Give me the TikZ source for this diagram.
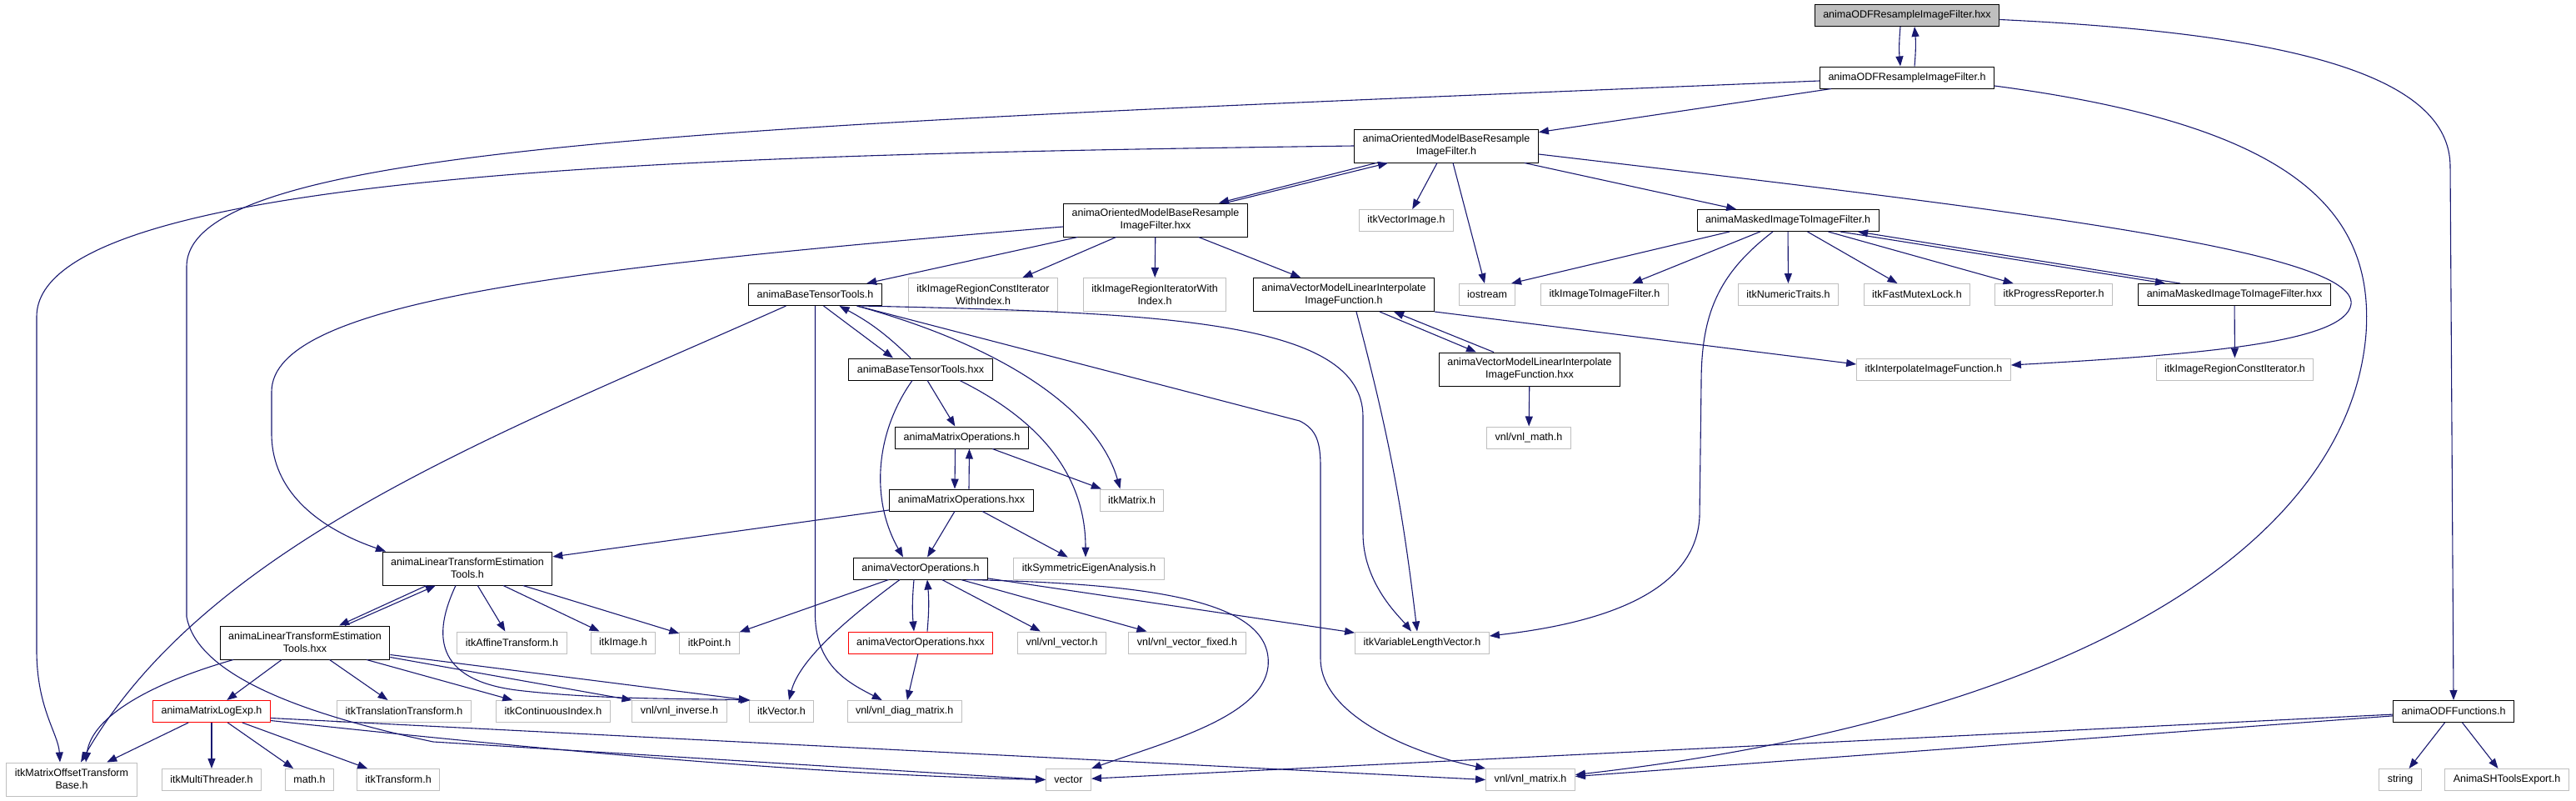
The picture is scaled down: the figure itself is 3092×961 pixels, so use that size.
\documentclass[tikz,border=0pt]{standalone}
\usepackage{fontspec}
\setmainfont{Liberation Sans}
\usetikzlibrary{arrows.meta}
\definecolor{edgeblue}{RGB}{25,25,112}
\definecolor{extgray}{RGB}{191,191,191}
\definecolor{truncred}{RGB}{255,0,0}

\begin{document}
\begin{tikzpicture}[x=1pt, y=-1pt,
	hfile/.style={draw=black, fill=white, line width=1pt, font=\fontsize{12.5}{15}\selectfont, align=center, minimum height=26pt, inner xsep=10pt, inner ysep=2pt},
	ext/.style={hfile, draw=extgray},
	trunc/.style={hfile, draw=truncred},
	mainfile/.style={hfile, fill=extgray},
	twoline/.style={minimum height=40pt},
	inc/.style={-{Triangle[length=12pt,width=9pt]}, edgeblue, line width=1.1pt}]
	\useasboundingbox (0,0) rectangle (3092,961);
	\node[mainfile] (odfhxx) at (2289,18.5) {animaODFResampleImageFilter.hxx};
	\node[hfile] (odfh) at (2289,93) {animaODFResampleImageFilter.h};
	\node[hfile, twoline] (ombh) at (1736,175) {animaOrientedModelBaseResample\\ImageFilter.h};
	\node[hfile, twoline] (ombhxx) at (1387,264) {animaOrientedModelBaseResample\\ImageFilter.hxx};
	\node[ext] (vecimg) at (1688,264.5) {itkVectorImage.h};
	\node[hfile] (maskh) at (2146,264.5) {animaMaskedImageToImageFilter.h};
	\node[hfile] (btth) at (978.5,353.5) {animaBaseTensorTools.h};
	\node[ext, twoline] (regcitw) at (1180,353.5) {itkImageRegionConstIterator\\WithIndex.h};
	\node[ext, twoline] (regitw) at (1386,353.5) {itkImageRegionIteratorWith\\Index.h};
	\node[hfile, twoline] (vmlih) at (1613,353.5) {animaVectorModelLinearInterpolate\\ImageFunction.h};
	\node[ext] (iostream) at (1785,353.5) {iostream};
	\node[ext] (imgtoimg) at (1926,353.5) {itkImageToImageFilter.h};
	\node[ext] (numtraits) at (2146.5,353.5) {itkNumericTraits.h};
	\node[ext] (mutex) at (2301,353.5) {itkFastMutexLock.h};
	\node[ext] (progress) at (2465,353.5) {itkProgressReporter.h};
	\node[hfile] (maskhxx) at (2682,353.5) {animaMaskedImageToImageFilter.hxx};
	\node[hfile] (btthxx) at (1105,443) {animaBaseTensorTools.hxx};
	\node[hfile, twoline] (vmlihxx) at (1836,443) {animaVectorModelLinearInterpolate\\ImageFunction.hxx};
	\node[ext] (interp) at (2321,443) {itkInterpolateImageFunction.h};
	\node[ext] (regci) at (2682.5,443) {itkImageRegionConstIterator.h};
	\node[hfile] (matoph) at (1154.5,525) {animaMatrixOperations.h};
	\node[ext] (vnlmath) at (1835,525) {vnl/vnl\_math.h};
	\node[hfile] (matophxx) at (1154,600) {animaMatrixOperations.hxx};
	\node[ext] (itkmatrix) at (1358.5,600) {itkMatrix.h};
	\node[hfile, twoline] (lteh) at (561,682) {animaLinearTransformEstimation\\Tools.h};
	\node[hfile] (vecoph) at (1105,682) {animaVectorOperations.h};
	\node[ext] (symeig) at (1307,682) {itkSymmetricEigenAnalysis.h};
	\node[hfile, twoline] (ltehxx) at (366,771) {animaLinearTransformEstimation\\Tools.hxx};
	\node[ext] (affine) at (614.5,771) {itkAffineTransform.h};
	\node[ext] (itkimage) at (748,771) {itkImage.h};
	\node[ext] (itkpoint) at (851.5,771) {itkPoint.h};
	\node[trunc] (vecophxx) at (1105,771) {animaVectorOperations.hxx};
	\node[ext] (vnlvector) at (1274.6,771) {vnl/vnl\_vector.h};
	\node[ext] (vnlvecfixed) at (1425,771) {vnl/vnl\_vector\_fixed.h};
	\node[ext] (varlen) at (1707,771) {itkVariableLengthVector.h};
	\node[trunc] (logexp) at (254,853.5) {animaMatrixLogExp.h};
	\node[ext] (translation) at (485,853.5) {itkTranslationTransform.h};
	\node[ext] (contidx) at (664,853.5) {itkContinuousIndex.h};
	\node[ext] (vnlinverse) at (815.5,853.5) {vnl/vnl\_inverse.h};
	\node[ext] (itkvector) at (938,853.5) {itkVector.h};
	\node[ext] (vnldiag) at (1085.7,853.5) {vnl/vnl\_diag\_matrix.h};
	\node[hfile] (odffunc) at (2945,853.5) {animaODFFunctions.h};
	\node[ext, twoline] (mobase) at (86,935) {itkMatrixOffsetTransform\\Base.h};
	\node[ext] (multithreader) at (254,935.5) {itkMultiThreader.h};
	\node[ext] (mathh) at (371.5,935.5) {math.h};
	\node[ext] (transform) at (478,935.5) {itkTransform.h};
	\node[ext] (vector) at (1282.5,935.5) {vector};
	\node[ext] (vnlmatrix) at (1837,935.5) {vnl/vnl\_matrix.h};
	\node[ext] (string) at (2881,935.5) {string};
	\node[ext] (shexport) at (3009,935.5) {AnimaSHToolsExport.h};
	\draw[inc] ([xshift=-8pt]odfhxx.south) to[bend right=5] ([xshift=-8pt]odfh.north);
	\draw[inc] ([xshift=9pt]odfh.north) to[bend right=5] ([xshift=9pt]odfhxx.south);
	\draw[inc] ([yshift=-5pt]odfhxx.east) .. controls (2750,40) and (2941,90) .. (2941,200) -- (odffunc.north);
	\draw[inc] (odfh) -- (ombh);
	\draw[inc] ([yshift=-4pt]odfh.west) .. controls (900,150) and (224,170) .. (224,320) -- (224,740) .. controls (235,800) and (330,850) .. (520,890) -- (vector.west);
	\draw[inc] ([yshift=-10pt]odfh.east) .. controls (2750,150) and (2850,250) .. (2840,400) .. controls (2820,650) and (2500,860) .. ([yshift=6pt]vnlmatrix.east);
	\draw[inc] (odffunc) -- (vector);
	\draw[inc] (odffunc) -- (vnlmatrix);
	\draw[inc] (odffunc) -- (string);
	\draw[inc] (odffunc) -- (shexport);
	\draw[inc] ([xshift=-84pt]ombh.south) -- ([xshift=76pt]ombhxx.north);
	\draw[inc] ([xshift=84pt]ombhxx.north) -- ([xshift=-70pt]ombh.south);
	\draw[inc] (ombh) -- (vecimg);
	\draw[inc] ([xshift=8pt]ombh.south) -- ([xshift=-3pt]iostream.north);
	\draw[inc] (ombh) -- (maskh);
	\draw[inc] ([yshift=-10pt]ombh.east) .. controls (2400,250) and (2830,300) .. (2822,365) .. controls (2815,410) and (2650,425) .. ([yshift=5pt]interp.east);
	\draw[inc] (ombh.west) .. controls (900,185) and (44,200) .. (44,380) -- (44,780) .. controls (44,850) and (70,880) .. ([xshift=-14pt]mobase.north);
	\draw[inc] ([yshift=-8pt]ombhxx.west) .. controls (700,320) and (326,360) .. (326,470) -- (326,520) .. controls (326,600) and (400,640) .. ([xshift=-98pt]lteh.north);
	\draw[inc] (ombhxx) -- (btth);
	\draw[inc] (ombhxx) -- (regcitw);
	\draw[inc] (ombhxx) -- (regitw);
	\draw[inc] (ombhxx) -- (vmlih);
	\draw[inc] ([xshift=10pt]btth.south) -- ([xshift=-33pt]btthxx.north);
	\draw[inc] ([xshift=-12pt]btthxx.north) to[bend right=8] ([xshift=29pt]btth.south);
	\draw[inc] ([xshift=-35pt]btth.south) .. controls (600,520) and (250,650) .. ([xshift=11pt]mobase.north);
	\draw[inc] (btth.south) -- (978.5,740) .. controls (980,800) and (1020,820) .. ([xshift=-27pt]vnldiag.north);
	\draw[inc] ([xshift=50pt]btth.south) .. controls (1220,420) and (1320,500) .. ([xshift=-14pt]itkmatrix.north);
	\draw[inc] ([xshift=-25pt]btth.south east) .. controls (1400,375) and (1636,385) .. (1636,500) -- (1636,640) .. controls (1636,700) and (1680,740) .. ([xshift=-13pt]varlen.north);
	\draw[inc] ([xshift=-30pt]btth.south east) -- (1560,505) .. controls (1580,515) and (1585,530) .. (1585,560) -- (1585,790) .. controls (1585,860) and (1700,905) .. (vnlmatrix.north west);
	\draw[inc] (btthxx) -- (matoph);
	\draw[inc] ([xshift=-10pt]btthxx.south) .. controls (1050,520) and (1045,600) .. ([xshift=-21pt]vecoph.north);
	\draw[inc] ([xshift=47pt]btthxx.south) .. controls (1260,510) and (1303,580) .. ([xshift=-4pt]symeig.north);
	\draw[inc] ([xshift=-8pt]matoph.south) -- ([xshift=-8pt]matophxx.north);
	\draw[inc] ([xshift=9pt]matophxx.north) -- ([xshift=9pt]matoph.south);
	\draw[inc] (matoph) -- (itkmatrix);
	\draw[inc] (matophxx) -- (lteh);
	\draw[inc] (matophxx) -- (vecoph);
	\draw[inc] (matophxx) -- (symeig);
	\draw[inc] ([xshift=-8pt]vecoph.south) to[bend right=5] ([xshift=-8pt]vecophxx.north);
	\draw[inc] ([xshift=8pt]vecophxx.north) to[bend right=5] ([xshift=8pt]vecoph.south);
	\draw[inc] (vecoph) -- (itkpoint);
	\draw[inc] ([xshift=-25pt]vecoph.south) .. controls (1020,740) and (960,790) .. ([xshift=9pt]itkvector.north);
	\draw[inc] (vecoph) -- (vnlvector);
	\draw[inc] (vecoph) -- (vnlvecfixed);
	\draw[inc] (vecoph) -- (varlen);
	\draw[inc] ([xshift=55pt]vecoph.south) .. controls (1380,700) and (1530,720) .. (1522,800) .. controls (1515,860) and (1400,890) .. (vector.north east);
	\draw[inc] (vecophxx) -- (vnldiag);
	\draw[inc] ([xshift=-49pt]lteh.south) -- ([xshift=41pt]ltehxx.north);
	\draw[inc] ([xshift=48pt]ltehxx.north) -- ([xshift=-38pt]lteh.south);
	\draw[inc] (lteh) -- (affine);
	\draw[inc] (lteh) -- (itkimage);
	\draw[inc] (lteh) -- (itkpoint);
	\draw[inc] ([xshift=-14pt]lteh.south) .. controls (520,760) and (520,815) .. (620,828) .. controls (720,840) and (840,838) .. ([xshift=2pt]itkvector.north west);
	\draw[inc] ([xshift=-86pt]ltehxx.south) .. controls (180,820) and (110,860) .. ([xshift=17pt]mobase.north);
	\draw[inc] (ltehxx) -- (logexp);
	\draw[inc] (ltehxx) -- (translation);
	\draw[inc] (ltehxx) -- (contidx);
	\draw[inc] ([yshift=3pt]ltehxx.south east) -- (vnlinverse.north west);
	\draw[inc] ([yshift=6pt]ltehxx.south east) -- (itkvector.north west);
	\draw[inc] (logexp) -- (mobase);
	\draw[inc] (logexp) -- (multithreader);
	\draw[inc] (logexp) -- (mathh);
	\draw[inc] (logexp) -- (transform);
	\draw[inc] ([yshift=-8pt]logexp.east) -- (vnlmatrix.west);
	\draw[inc] ([yshift=-11pt]logexp.east) .. controls (700,905) and (1000,930) .. (vector.west);
	\draw[inc] ([xshift=-70pt]maskh.south) -- ([xshift=29pt]iostream.north);
	\draw[inc] (maskh) -- (imgtoimg);
	\draw[inc] ([xshift=-18pt]maskh.south) .. controls (2060,330) and (2042,380) .. (2042,460) -- (2040,620) .. controls (2035,720) and (1900,750) .. ([yshift=8pt]varlen.east);
	\draw[inc] (maskh) -- (numtraits);
	\draw[inc] (maskh) -- (mutex);
	\draw[inc] (maskh) -- (progress);
	\draw[inc] ([xshift=63pt]maskh.south) -- ([xshift=-83pt]maskhxx.north);
	\draw[inc] ([xshift=-65pt]maskhxx.north) -- ([xshift=84pt]maskh.south);
	\draw[inc] (maskhxx) -- (regci);
	\draw[inc] ([xshift=43pt]vmlih.south) -- ([xshift=-64pt]vmlihxx.north);
	\draw[inc] ([xshift=-43pt]vmlihxx.north) -- ([xshift=60pt]vmlih.south);
	\draw[inc] ([xshift=15pt]vmlih.south) to[bend left=4] ([xshift=-6pt]varlen.north);
	\draw[inc] (vmlih.south east) -- ([yshift=6pt]interp.west);
	\draw[inc] (vmlihxx) -- (vnlmath);
\end{tikzpicture}
\end{document}
